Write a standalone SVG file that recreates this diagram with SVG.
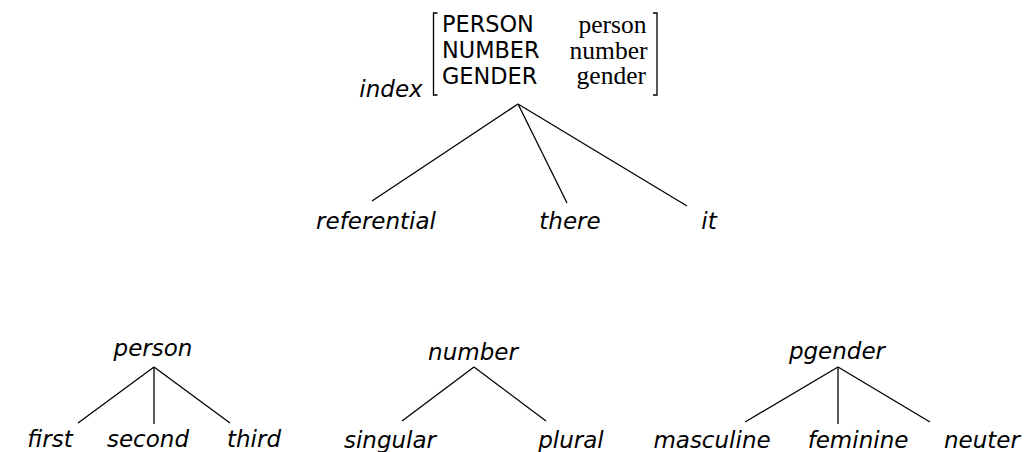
<svg xmlns="http://www.w3.org/2000/svg" width="1027" height="452" viewBox="0 0 1027 452">
  <style>
    .lbl { font-family: "DejaVu Sans", sans-serif; font-style: italic; font-size: 23px; fill: #000; text-anchor: middle; }
    .feat { font-family: "DejaVu Sans", sans-serif; font-size: 22.4px; fill: #000; }
    .val { font-family: "Liberation Serif", "DejaVu Serif", serif; font-size: 25.5px; fill: #000; text-anchor: end; }
    .edge { stroke: #000; stroke-width: 1.3; fill: none; }
    .brk { stroke: #000; stroke-width: 1.3; fill: none; }
  </style>

  <!-- index type with its attribute-value matrix -->
  <g id="index">
    <text class="lbl" x="391" y="97">index</text>
    <path class="brk" d="M437.5,13 H433.5 V95 H437.5"/>
    <path class="brk" d="M653,13 H657 V95 H653"/>
    <text class="feat" x="442" y="32">PERSON</text>
    <text class="feat" x="442" y="58">NUMBER</text>
    <text class="feat" x="442" y="84">GENDER</text>
    <text class="val" x="646.5" y="32.5">person</text>
    <text class="val" x="647.5" y="58.5">number</text>
    <text class="val" x="646" y="84">gender</text>
  </g>

  <g id="referential"><text class="lbl" x="376" y="229">referential</text></g>
  <g id="there"><text class="lbl" x="570" y="229">there</text></g>
  <g id="it"><text class="lbl" x="709" y="229">it</text></g>

  <g id="person"><text class="lbl" x="153" y="356">person</text></g>
  <g id="first"><text class="lbl" x="50" y="447">first</text></g>
  <g id="second"><text class="lbl" x="148" y="447">second</text></g>
  <g id="third"><text class="lbl" x="254" y="447">third</text></g>

  <g id="number"><text class="lbl" x="473" y="360">number</text></g>
  <g id="singular"><text class="lbl" x="390" y="448">singular</text></g>
  <g id="plural"><text class="lbl" x="571" y="448">plural</text></g>

  <g id="pgender"><text class="lbl" x="837" y="359">pgender</text></g>
  <g id="masculine"><text class="lbl" x="712" y="448">masculine</text></g>
  <g id="feminine"><text class="lbl" x="858" y="448">feminine</text></g>
  <g id="neuter"><text class="lbl" x="982" y="448">neuter</text></g>

  <!-- tree edges -->
  <g id="connectors">
    <line class="edge" x1="518" y1="104" x2="372" y2="201"/>
    <line class="edge" x1="518" y1="104" x2="567" y2="203"/>
    <line class="edge" x1="518" y1="104" x2="687" y2="206"/>

    <line class="edge" x1="154" y1="367" x2="78" y2="423"/>
    <line class="edge" x1="154" y1="367" x2="154" y2="424"/>
    <line class="edge" x1="154" y1="367" x2="230" y2="423"/>

    <line class="edge" x1="474" y1="367" x2="402" y2="421"/>
    <line class="edge" x1="474" y1="367" x2="546" y2="421"/>

    <line class="edge" x1="838" y1="367" x2="745" y2="422"/>
    <line class="edge" x1="838" y1="367" x2="838" y2="424"/>
    <line class="edge" x1="838" y1="367" x2="930" y2="422"/>
  </g>
</svg>
